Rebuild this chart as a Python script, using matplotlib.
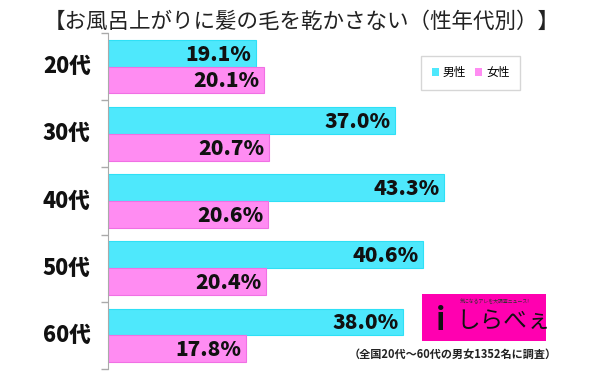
import matplotlib
matplotlib.use('Agg')
from matplotlib import pyplot as plt
from matplotlib.patches import Rectangle

plt.rcParams['font.family'] = ['Noto Sans CJK JP', 'DejaVu Sans']

ages = ['20代', '30代', '40代', '50代', '60代']
male = [19.1, 37.0, 43.3, 40.6, 38.0]
female = [20.1, 20.7, 20.6, 20.4, 17.8]
series_names = ['男性', '女性']
title = '【お風呂上がりに髪の毛を乾かさない（性年代別）】'
note = '（全国20代～60代の男女1352名に調査）'

cyan = '#4ee8fc'
cyan_edge = '#2ee0f6'
pink = '#ff8cf2'
pink_edge = '#f070e4'

fig = plt.figure(figsize=(6, 3.75), dpi=100)
ax = fig.add_axes([0.18, 0.016, 0.80, 0.896])

pos = list(range(len(ages)))
h = 0.4
b1 = ax.barh([p - h / 2 for p in pos], male, height=h, color=cyan,
              edgecolor=cyan_edge, linewidth=0.8, label=series_names[0])
b2 = ax.barh([p + h / 2 for p in pos], female, height=h, color=pink,
              edgecolor=pink_edge, linewidth=0.8, label=series_names[1])

for bars, vals in [(b1, male), (b2, female)]:
    for bar, v in zip(bars, vals):
        ax.text(v - 0.6, bar.get_y() + bar.get_height() / 2 + 0.02, f'{v:.1f}%',
                ha='right', va='center', fontsize=15, fontweight=900, color='#111111')

ax.set_xlim(0, 61.8)
ax.set_ylim(4.5, -0.5)
ax.set_xticks([])
ax.set_yticks([p + 0.5 for p in [-1] + pos])
ax.set_yticklabels([])
ax.tick_params(axis='y', length=5, color='#aaaaaa', width=1)
for p, lab in zip(pos, ages):
    ax.text(-0.086, p, lab, transform=ax.get_yaxis_transform(), ha='center', va='center',
            fontsize=15.5, fontweight=900, color='#111111')

for s in ['top', 'right', 'bottom']:
    ax.spines[s].set_visible(False)
ax.spines['left'].set_color('#aaaaaa')

leg = ax.legend(loc='upper left', bbox_to_anchor=(0.64, 0.95), ncol=2, fontsize=8.5,
                handlelength=0.6, handleheight=0.6, handletextpad=0.3, columnspacing=0.8,
                frameon=True, fancybox=False, borderpad=0.9)
leg.get_frame().set_edgecolor('#cccccc')
for hd in leg.legend_handles:
    hd.set_edgecolor('none')

fig.text(0.503, 0.942, title, ha='center', va='center', fontsize=15.5, color='#222222')

# logo box
fig.patches.append(Rectangle((0.703, 0.09), 0.207, 0.127, transform=fig.transFigure,
                             facecolor='#ff00b0', edgecolor='none'))
fig.text(0.825, 0.197, '気になるアレを大調査ニュース!', ha='center', va='center',
         fontsize=3.5, color='#333333')
fig.text(0.735, 0.145, 'i', ha='center', va='center', fontsize=22, fontweight='bold',
         color='#111111')
fig.text(0.84, 0.14, 'しらべぇ', ha='center', va='center', fontsize=17, color='#111111')

fig.text(0.755, 0.055, note, ha='center', va='center', fontsize=8, fontweight='bold',
         color='#222222')

fig.savefig('out.png', dpi=100)
